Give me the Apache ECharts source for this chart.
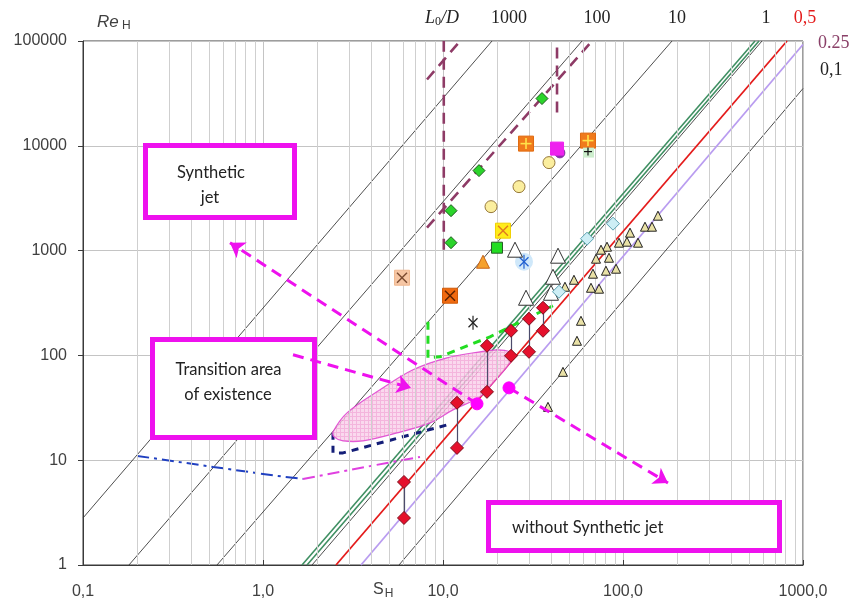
<!DOCTYPE html>
<html><head><meta charset="utf-8">
<script src="https://cdn.jsdelivr.net/npm/echarts@6/dist/echarts.min.js"></script>
<style>html,body{margin:0;padding:0;background:#fff}#c{width:854px;height:603px}</style>
</head><body><div id="c"></div>
<script>
// ---------- axis ticks ----------
const xTickLabels = ['0,1', '1,0', '10,0', '100,0', '1000,0'];
const yTickLabels = ['1', '10', '100', '1000', '10000', '100000'];
const xMinorDecades = [0.1, 1, 10, 100];
const xMinorMantissas = [2, 3, 4, 5, 6, 7, 8, 9];

// ---------- reference lines Re_H vs S_H (L0/D) : [S, Re] end points ----------
const lineL1000 = [[0.1, 2.81], [18.72, 100000]];
const lineL100 = [[0.18, 1], [59.2, 100000]];
const lineL10 = [[0.555, 1], [187.2, 100000]];
const lineGreenA = [[1.647, 1], [541.2, 100000]];
const lineGreenB = [[1.756, 1], [569.6, 100000]];
const lineL1 = [[1.872, 1], [591.8, 100000]];
const lineL05 = [[2.544, 1], [815, 100000]];
const lineL025 = [[3.503, 1], [1000, 92600]];
const lineL01 = [[5.696, 1], [1000, 35200]];

// brown dashed bounds
const brownV1 = [[10.1, 1020], [10.1, 100000]];
const brownV2 = [[43, 20750], [43, 100000]];
const brownD1 = [[8.15, 42900], [12.45, 100000]];
const brownD2 = [[8.15, 1655], [67.3, 100000]];

// other boundary curves
const greenDashS = [8.25, 8.25, 9.62, 18.24, 40.8];
const greenDashRe = [209.4, 94.8, 97.0, 150.5, 297.8];
const navyDashS = [2.448, 2.448, 2.783, 10.52];
const navyDashRe = [18.23, 11.74, 11.74, 21.7];
const blueDashDotS = [0.2, 0.5275, 1.196, 1.668];
const blueDashDotRe = [10.99, 8.63, 7.08, 6.63];
const pinkDashDotS = [1.668, 4.885, 7.45];
const pinkDashDotRe = [6.63, 9.42, 10.75];

// transition ellipse outline
const ellipseS = [2.448, 2.929, 4.467, 6.81, 10.52, 16.06, 19.95, 23.56, 24.48, 22.68, 18.96, 16.06, 11.36, 8.47, 5.55, 3.594, 2.783, 2.48];
const ellipseRe = [18.63, 28.3, 46.9, 72.9, 94.8, 108.2, 113.1, 108.2, 97.0, 77.8, 54.7, 40.2, 30.2, 22.7, 18.2, 15.3, 15.3, 16.7];

// arrows [from, to]
const arrowFromS = [15.45, 23.26, 1.468];
const arrowFromRe = [34.5, 49.0, 101.3];
const arrowToS = [0.6556, 177.8, 6.64];
const arrowToRe = [1190, 6.07, 49.0];

// ---------- markers ----------
const greenDiaS = [35.48, 15.85, 11.08, 11.08];
const greenDiaRe = [28240, 5796, 2405, 1190];
const orangePlusS = [28.92, 63.9];
const orangePlusRe = [10490, 11210];
const magentaSqS = [43.0];
const magentaSqRe = [9404];
const purpleDotS = [44.6];
const purpleDotRe = [8560];
const blackPlusS = [63.9];
const blackPlusRe = [8805];
const yellowCircS = [38.8, 26.44, 18.48];
const yellowCircRe = [6911, 4077, 2626];
const yellowXS = [21.54];
const yellowXRe = [1549];
const greenSqS = [19.95];
const greenSqRe = [1066];
const orangeTriS = [16.68];
const orangeTriRe = [783];
const whiteTriS = [25.12, 43.55, 40.84, 39.81, 28.92];
const whiteTriRe = [1020, 894, 563, 396, 355];
const blueAstS = [28.18];
const blueAstRe = [783];
const cyanDiaS = [88.0, 63.1, 44.1];
const cyanDiaRe = [1807, 1299, 405];
const peachXS = [5.92];
const peachXRe = [551];
const darkOrangeXS = [10.94];
const darkOrangeXRe = [371];
const blackAstS = [14.68];
const blackAstRe = [204.8];
const smallTriS = [156.4, 132.5, 144.9, 109.4, 105.2, 95.0, 121.2, 81.5, 75.5, 83.6, 70.8, 68.1, 80.4, 91.5, 53.4, 47.6, 66.4, 73.6, 58.4, 55.5, 46.4, 38.3];
const smallTriRe = [2154, 1691, 1691, 1483, 1216, 1190, 1190, 1090, 1020, 855, 837, 602, 643, 672, 527, 452, 442, 433, 214, 137.9, 69.7, 32.3];
const redPairS = [6.07, 11.96, 17.55, 23.87, 30.05, 35.94];
const redPairReTop = [6.20, 35.3, 123.5, 171.8, 223.7, 284.8];
const redPairReBottom = [2.81, 13.1, 44.9, 99.1, 108.2, 171.8];
const magentaDotS = [15.45, 23.26];
const magentaDotRe = [34.5, 49.0];

// ---------- helpers ----------
const zip = (a, b) => a.map((v, i) => [v, b[i]]);
const MAG = '#ee11ee';

function simpleLine(data, color, width, type, z) {
  return { type: 'line', data: data, symbol: 'none', silent: true, z: z || 2,
    lineStyle: { color: color, width: width, type: type || 'solid' } };
}
function scatter(data, symbol, size, fill, stroke, z) {
  return { type: 'scatter', data: data, symbol: symbol, symbolSize: size, z: z || 6,
    itemStyle: { color: fill, borderColor: stroke, borderWidth: 1, opacity: 1 } };
}
function customMarker(data, draw, z) {
  return { type: 'custom', data: data, z: z || 6, silent: true,
    renderItem: function (params, api) {
      const p = api.coord([api.value(0), api.value(1)]);
      return { type: 'group', children: draw(p[0], p[1]) };
    } };
}
function seg(x1, y1, x2, y2, c, w) {
  return { type: 'line', shape: { x1, y1, x2, y2 }, style: { stroke: c, lineWidth: w } };
}
function sqBox(x, y, s, fill, stroke) {
  return { type: 'rect', shape: { x: x - s / 2, y: y - s / 2, width: s, height: s }, style: { fill: fill, stroke: stroke, lineWidth: 1 } };
}
const drawSqX = (fill, stroke, xc) => (x, y) => {
  const h = 7.5, d = 5;
  return [sqBox(x, y, 2 * h, fill, stroke), seg(x - d, y - d, x + d, y + d, xc, 1.4), seg(x + d, y - d, x - d, y + d, xc, 1.4)];
};
const drawSqPlus = (fill, stroke, pc) => (x, y) => {
  const h = 7.5, d = 5.5;
  return [sqBox(x, y, 2 * h, fill, stroke), seg(x - d, y, x + d, y, pc, 1.6), seg(x, y - d, x, y + d, pc, 1.6)];
};
const drawAst = (color, bg) => (x, y) => {
  const d = 6, e = 4.5;
  const kids = [];
  if (bg) kids.push({ type: 'circle', shape: { cx: x, cy: y, r: 9 }, style: { fill: bg } });
  kids.push(seg(x, y - d - 1, x, y + d + 1, color, 1.2), seg(x - e, y - e, x + e, y + e, color, 1.2), seg(x + e, y - e, x - e, y + e, color, 1.2));
  return kids;
};
const drawPlusOnGreen = (x, y) => [
  { type: 'rect', shape: { x: x - 5, y: y - 4, width: 11, height: 10 }, style: { fill: '#cdeecd' } },
  seg(x - 4, y, x + 4, y, '#111', 1.2), seg(x, y - 4, x, y + 4, '#111', 1.2)
];

// hatch pattern for ellipse
const pc = document.createElement('canvas');
pc.width = 4; pc.height = 4;
const pctx = pc.getContext('2d');
pctx.fillStyle = '#fad3ec'; pctx.fillRect(0, 0, 4, 4);
pctx.fillStyle = '#f2a9d8'; pctx.fillRect(0, 0, 4, 1); pctx.fillRect(0, 0, 1, 4);

const chart = echarts.init(document.getElementById('c'), null, { renderer: 'canvas' });

const minorX = [];
xMinorDecades.forEach(d => xMinorMantissas.forEach(m => minorX.push({ xAxis: +(d * m).toPrecision(3) })));

const diagBlack = '#3a3a3a';
const series = [
  // minor vertical grid
  { type: 'line', data: [], z: 1, silent: true,
    markLine: { silent: true, symbol: 'none', label: { show: false },
      lineStyle: { color: '#cfcfcf', width: 1, type: 'solid' }, data: minorX } },
  simpleLine(lineL1000, diagBlack, 0.9),
  simpleLine(lineL100, diagBlack, 0.9),
  simpleLine(lineL10, diagBlack, 0.9),
  simpleLine(lineGreenA, '#3f8f62', 1.6),
  simpleLine(lineGreenB, '#3f8f62', 1.6),
  simpleLine(lineL1, diagBlack, 0.9),
  simpleLine(lineL05, '#e41b1b', 1.8),
  simpleLine(lineL025, '#b99cf0', 1.8),
  simpleLine(lineL01, diagBlack, 0.9),
  simpleLine(brownV1, '#8e3b66', 2.6, [11, 7], 3),
  simpleLine(brownV2, '#8e3b66', 2.6, [11, 7], 3),
  simpleLine(brownD1, '#8e3b66', 2.6, [11, 7], 3),
  simpleLine(brownD2, '#8e3b66', 2.6, [11, 7], 3),
  simpleLine(zip(greenDashS, greenDashRe), '#22dd22', 3, [8, 6], 3),
  simpleLine(zip(navyDashS, navyDashRe), '#141e78', 3, [7, 6], 3),
  simpleLine(zip(blueDashDotS, blueDashDotRe), '#2040c0', 2, [12, 5, 3, 5], 3),
  simpleLine(zip(pinkDashDotS, pinkDashDotRe), '#e040e0', 2, [12, 5, 3, 5], 3),
  // ellipse
  { type: 'custom', data: [[ellipseS[0], ellipseRe[0]]], z: 4, silent: true,
    renderItem: function (params, api) {
      const pts = ellipseS.map((s, i) => api.coord([s, ellipseRe[i]]));
      return { type: 'polygon', shape: { points: pts, smooth: 0.35 },
        style: { fill: { image: pc, repeat: 'repeat' }, stroke: '#dd3fcf', lineWidth: 1.2, opacity: 0.85 } };
    } },
  // red pair connectors
  { type: 'lines', coordinateSystem: 'cartesian2d', z: 5, silent: true,
    data: redPairS.map((s, i) => ({ coords: [[s, redPairReTop[i]], [s, redPairReBottom[i]]] })),
    lineStyle: { color: '#4c4c6c', width: 1.2, opacity: 1 } },
  // markers
  scatter(zip(smallTriS, smallTriRe), 'triangle', 9, '#e9e1a6', '#222'),
  scatter(zip(whiteTriS, whiteTriRe), 'triangle', 15, '#ffffff', '#333'),
  scatter(zip(cyanDiaS, cyanDiaRe), 'diamond', 13, '#cdeef5', '#5aa0b0'),
  scatter(zip(greenDiaS, greenDiaRe), 'diamond', 12, '#2bd42b', '#1c5c1c'),
  scatter(zip(yellowCircS, yellowCircRe), 'circle', 12, '#fbee9e', '#96783a'),
  scatter(zip(greenSqS, greenSqRe), 'rect', 11, '#22dd22', '#265c26'),
  scatter(zip(orangeTriS, orangeTriRe), 'triangle', 13, '#f5a12e', '#c8661a'),
  scatter(zip(purpleDotS, purpleDotRe), 'circle', 10, '#8a2fa8', '#8a2fa8'),
  scatter(zip(magentaSqS, magentaSqRe), 'rect', 13, '#ee22ee', '#ee22ee'),
  scatter(zip(redPairS, redPairReTop), 'diamond', 13, '#e5102c', '#7d0d1c', 7),
  scatter(zip(redPairS, redPairReBottom), 'diamond', 13, '#e5102c', '#7d0d1c', 7),
  scatter(zip(magentaDotS, magentaDotRe), 'circle', 12, '#ff00ff', '#ff00ff', 21),
  customMarker(zip(orangePlusS, orangePlusRe), drawSqPlus('#f07a1c', '#e06a10', '#ffe24a')),
  customMarker(zip(yellowXS, yellowXRe), drawSqX('#ffec1a', '#f0d000', '#e07a20')),
  customMarker(zip(peachXS, peachXRe), drawSqX('#f6c6a4', '#f0b890', '#7a4a30')),
  customMarker(zip(darkOrangeXS, darkOrangeXRe), drawSqX('#f06a10', '#d05a08', '#5a2000')),
  customMarker(zip(blackPlusS, blackPlusRe), drawPlusOnGreen),
  customMarker(zip(blueAstS, blueAstRe), drawAst('#2060d0', '#cfe8fa')),
  customMarker(zip(blackAstS, blackAstRe), drawAst('#222', null)),
  // arrows
  { type: 'lines', coordinateSystem: 'cartesian2d', z: 20, silent: true,
    symbol: ['none', 'arrow'], symbolSize: 14,
    data: arrowFromS.map((s, i) => ({ coords: [[s, arrowFromRe[i]], [arrowToS[i], arrowToRe[i]]] })),
    lineStyle: { color: MAG, width: 3, type: [11, 7], opacity: 1 } }
];

const txt = (x, y, text, font, color, align, extra) => Object.assign({
  type: 'text', x: x, y: y, z: 30,
  style: { text: text, font: font, fill: color || '#333', align: align || 'center', verticalAlign: 'middle' }
}, extra || {});
const box = (x1, y1, x2, y2) => ({ type: 'rect', z: 10,
  shape: { x: x1, y: y1, width: x2 - x1, height: y2 - y1 },
  style: { fill: '#fff', stroke: MAG, lineWidth: 5 } });

const boxFont = '16.5px Lato, "Open Sans", sans-serif';
const serif = '"Liberation Serif", "DejaVu Serif", serif';

const option = {
  animation: false,
  backgroundColor: '#fff',
  grid: { left: 83, right: 51, top: 41, bottom: 38, show: true, borderColor: '#3a3a3a', borderWidth: 1, backgroundColor: 'transparent' },
  xAxis: {
    type: 'log', logBase: 10, min: 0.1, max: 1000,
    axisLine: { show: true, lineStyle: { color: '#3a3a3a' } },
    axisTick: { show: true, inside: true, length: 5, lineStyle: { color: '#3a3a3a' } },
    axisLabel: { margin: 19, fontSize: 16, color: '#404040', fontFamily: '"Liberation Sans", Arial, sans-serif',
      formatter: v => xTickLabels[Math.round(Math.log10(v)) + 1] },
    splitLine: { show: true, lineStyle: { color: '#c4c4c4', width: 1 } }
  },
  yAxis: {
    type: 'log', logBase: 10, min: 1, max: 100000,
    axisLine: { show: true, lineStyle: { color: '#3a3a3a' } },
    axisTick: { show: true, inside: false, length: 5, lineStyle: { color: '#3a3a3a' } },
    axisLabel: { margin: 16, fontSize: 16, color: '#404040', fontFamily: '"Liberation Sans", Arial, sans-serif',
      formatter: v => yTickLabels[Math.round(Math.log10(v))] },
    splitLine: { show: true, lineStyle: { color: '#c4c4c4', width: 1 } }
  },
  series: series,
  graphic: [
    box(145.5, 145.5, 294.5, 217.5),
    box(152.5, 339.5, 314.5, 437.5),
    box(488.5, 502.5, 779.5, 550.5),
    txt(211, 173, 'Synthetic', boxFont, '#222'),
    txt(210, 198, 'jet', boxFont, '#222'),
    txt(228.5, 370, 'Transition area', boxFont, '#222'),
    txt(228, 395, 'of existence', boxFont, '#222'),
    txt(512, 528, 'without Synthetic jet', boxFont, '#222', 'left'),
    // axis names
    { type: 'text', x: 97, y: 22, z: 30, style: {
      text: '{a|Re}{b| H}', verticalAlign: 'middle', align: 'left',
      rich: { a: { font: 'italic 17px "Liberation Sans", Arial, sans-serif', fill: '#404040' },
              b: { font: '12px "Liberation Sans", Arial, sans-serif', fill: '#404040', padding: [8, 0, 0, 0] } } } },
    { type: 'text', x: 373, y: 590, z: 30, style: {
      text: '{a|S}{b|H}', verticalAlign: 'middle', align: 'left',
      rich: { a: { font: '16px "Liberation Sans", Arial, sans-serif', fill: '#404040' },
              b: { font: '12px "Liberation Sans", Arial, sans-serif', fill: '#404040', padding: [8, 0, 0, 1] } } } },
    { type: 'text', x: 425, y: 18, z: 30, style: {
      text: '{a|L}{b|0}{a|/D}', verticalAlign: 'middle', align: 'left',
      rich: { a: { font: 'italic 18px ' + serif, fill: '#222' },
              b: { font: '12px ' + serif, fill: '#222', padding: [8, 0, 0, 0] } } } },
    txt(509, 18, '1000', '18px ' + serif, '#222'),
    txt(597, 18, '100', '18px ' + serif, '#222'),
    txt(677, 18, '10', '18px ' + serif, '#222'),
    txt(766, 18, '1', '18px ' + serif, '#222'),
    txt(805, 18, '0,5', '18px ' + serif, '#e41b1b'),
    txt(818, 43, '0.25', '18px ' + serif, '#8a4068', 'left'),
    txt(820, 70, '0,1', '18px ' + serif, '#222', 'left')
  ]
};
chart.setOption(option);
</script>
</body></html>
